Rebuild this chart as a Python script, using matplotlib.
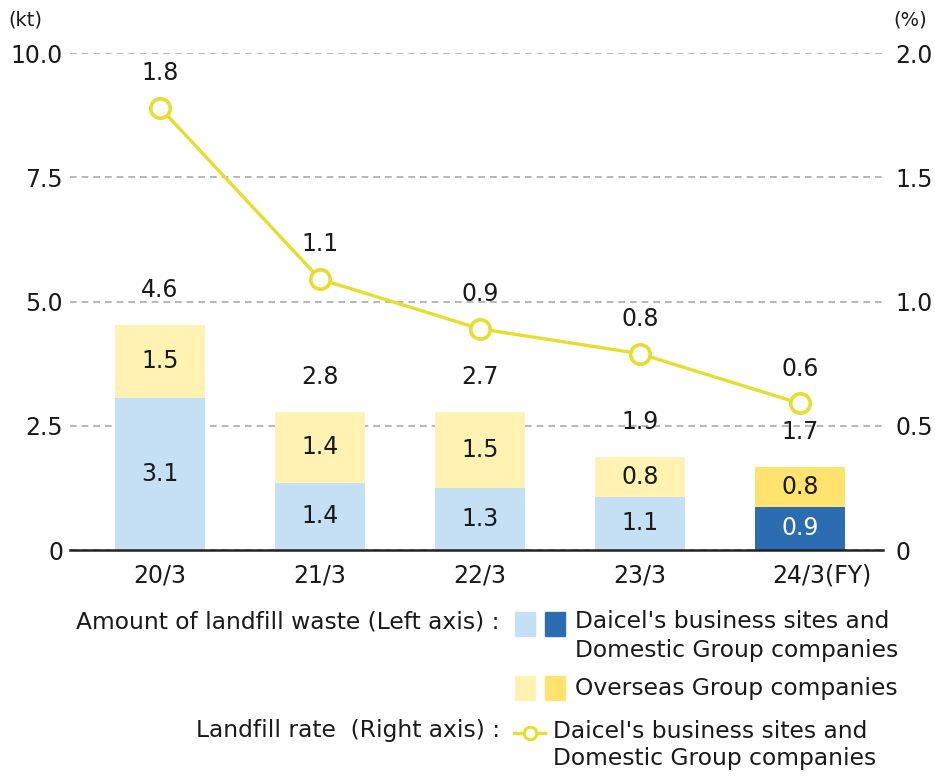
import matplotlib
matplotlib.use("Agg")
import matplotlib.pyplot as plt
from matplotlib.lines import Line2D
from matplotlib.patches import Rectangle
from matplotlib.transforms import ScaledTranslation

plt.rcParams['font.family'] = ['DejaVu Sans']

years = ['20/3', '21/3', '22/3', '23/3', '24/3(FY)']
domestic = [3.06, 1.35, 1.25, 1.07, 0.87]
overseas = [1.47, 1.43, 1.53, 0.80, 0.80]
domestic_lbl = ['3.1', '1.4', '1.3', '1.1', '0.9']
overseas_lbl = ['1.5', '1.4', '1.5', '0.8', '0.8']
total_lbl = ['4.6', '2.8', '2.7', '1.9', '1.7']
rate = [1.78, 1.09, 0.89, 0.79, 0.59]
rate_lbl = ['1.8', '1.1', '0.9', '0.8', '0.6']

blue_light = '#c5e0f4'
blue_dark = '#2b6db0'
yel_light = '#fff2b3'
yel_dark = '#ffe36e'
line_col = '#e8dc2c'
txt = '#1a1a1a'

fig = plt.figure(figsize=(9.35, 7.76), dpi=100)
ax = fig.add_axes([70 / 935, 1 - 550 / 776, 813 / 935, 497 / 776])
ax2 = ax.twinx()

x = list(range(len(years)))
dcol = [blue_light] * 4 + [blue_dark]
ocol = [yel_light] * 4 + [yel_dark]
ax.bar(x, domestic, width=0.5625, color=dcol, zorder=2)
ax.bar(x, overseas, width=0.5625, bottom=domestic, color=ocol, zorder=2)

fs = 17
for i in x:
    ax.text(i, domestic[i] / 2, domestic_lbl[i], ha='center', va='center', fontsize=fs,
            color='white' if i == 4 else txt, zorder=3)
    ax.text(i, domestic[i] + overseas[i] / 2, overseas_lbl[i], ha='center', va='center',
            fontsize=fs, color=txt, zorder=3)
    ax.annotate(total_lbl[i], (i, domestic[i] + overseas[i]), xytext=(0, 25),
                textcoords='offset points', ha='center', va='center', fontsize=fs, color=txt)

ax.set_xlim(-0.5625, 4.52)
ax.set_ylim(0, 10)
ax.set_yticks([0, 2.5, 5, 7.5, 10])
ax.set_yticklabels(['0', '2.5', '5.0', '7.5', '10.0'])
ax.yaxis.grid(True, linestyle=(0, (4, 3)), color='#aaaaaa', linewidth=1.2, zorder=0)
ax.set_axisbelow(True)
ax.set_xticks(x)
ax.set_xticklabels(years)
for s in ['top', 'right', 'left']:
    ax.spines[s].set_visible(False)
ax.spines['bottom'].set_linewidth(1.8)
ax.spines['bottom'].set_color('#222222')
ax.tick_params(axis='both', length=0, labelsize=fs, colors=txt)
ax.tick_params(axis='y', pad=5)
ax.tick_params(axis='x', pad=10)
lab = ax.get_xticklabels()[-1]
lab.set_transform(lab.get_transform() + ScaledTranslation(22 / 100, 0, fig.dpi_scale_trans))

ax2.plot(x, rate, color=line_col, linewidth=2.4, marker='o', markersize=14,
         markerfacecolor='white', markeredgecolor=line_col, markeredgewidth=2.6, zorder=4)
for i in x:
    ax2.annotate(rate_lbl[i], (i, rate[i]), xytext=(0, 25), textcoords='offset points',
                 ha='center', va='center', fontsize=fs, color=txt)
ax2.set_ylim(0, 2.0)
ax2.set_yticks([0, 0.5, 1.0, 1.5, 2.0])
ax2.set_yticklabels(['0', '0.5', '1.0', '1.5', '2.0'])
for s in ['top', 'right', 'left', 'bottom']:
    ax2.spines[s].set_visible(False)
ax2.tick_params(axis='y', length=0, labelsize=fs, colors=txt, pad=9)

fig.text(8 / 935, 1 - 20 / 776, '(kt)', fontsize=14, ha='left', va='center', color=txt)
fig.text(927 / 935, 1 - 20 / 776, '(%)', fontsize=14, ha='right', va='center', color=txt)

# legend drawn by hand
def fx(px):
    return px / 935

def fy(py):
    return 1 - py / 776

lfs = 16.8
fig.text(fx(500), fy(622), 'Amount of landfill waste (Left axis) :', fontsize=lfs,
         ha='right', va='center', color=txt)
fig.text(fx(500), fy(731), 'Landfill rate  (Right axis) :', fontsize=lfs,
         ha='right', va='center', color=txt)
for (x0, y0, c) in [(515, 612, blue_light), (545, 612, blue_dark),
                    (515, 676, yel_light), (545, 676, yel_dark)]:
    fig.patches.append(Rectangle((fx(x0), fy(y0 + 24)), 20 / 935, 24 / 776,
                                 transform=fig.transFigure, color=c, figure=fig))
fig.text(fx(575), fy(622), "Daicel's business sites and", fontsize=lfs, ha='left', va='center', color=txt)
fig.text(fx(575), fy(650), 'Domestic Group companies', fontsize=lfs, ha='left', va='center', color=txt)
fig.text(fx(575), fy(688), 'Overseas Group companies', fontsize=lfs, ha='left', va='center', color=txt)
fig.lines.append(Line2D([fx(514), fx(545)], [fy(733), fy(733)], transform=fig.transFigure,
                        color=line_col, linewidth=2.4, figure=fig))
fig.lines.append(Line2D([fx(530)], [fy(733)], transform=fig.transFigure, marker='o',
                        markersize=9, markerfacecolor='white', markeredgecolor=line_col,
                        markeredgewidth=2.2, color=line_col, figure=fig))
fig.text(fx(553), fy(731), "Daicel's business sites and", fontsize=lfs, ha='left', va='center', color=txt)
fig.text(fx(553), fy(758), 'Domestic Group companies', fontsize=lfs, ha='left', va='center', color=txt)

fig.savefig('out.png', dpi=100)
